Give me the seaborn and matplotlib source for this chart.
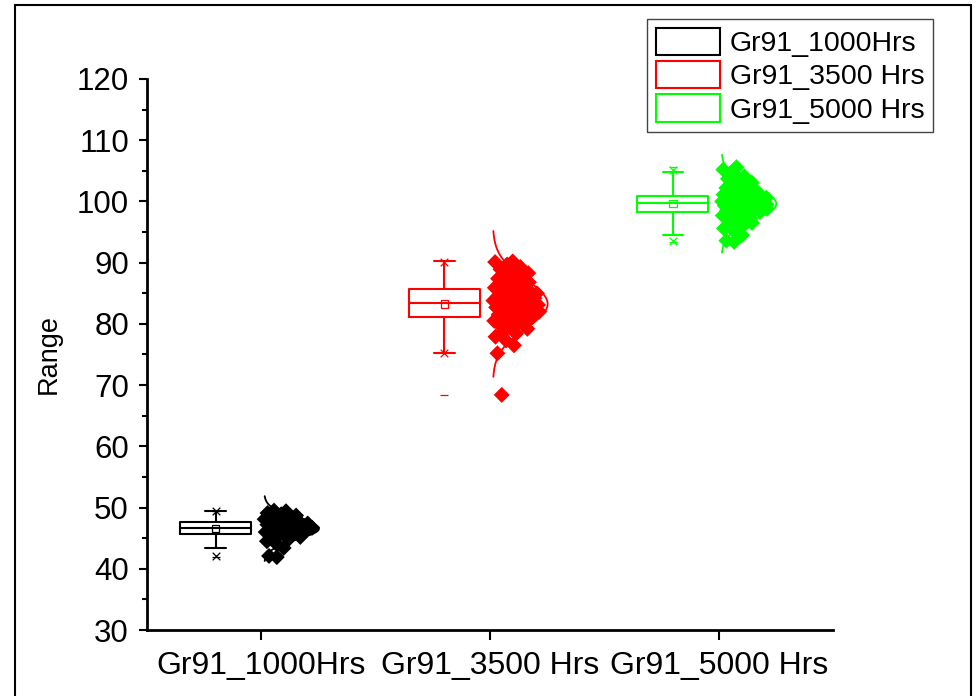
import numpy as np
import pandas as pd
import matplotlib
matplotlib.use("Agg")
import matplotlib.pyplot as plt
from matplotlib.patches import Patch, Rectangle
import seaborn as sns

# ---------------- data ----------------
categories = ["Gr91_1000Hrs", "Gr91_3500 Hrs", "Gr91_5000 Hrs"]
legend_labels = ["Gr91_1000Hrs", "Gr91_3500 Hrs", "Gr91_5000 Hrs"]
colors = ["#000000", "#FF0000", "#00FF00"]

range_1000 = [41.9, 42.1, 43.4, 44.0, 44.5, 44.8, 45.0, 45.2, 45.4, 45.6,
              45.7, 45.9, 46.0, 46.1, 46.2, 46.3, 46.4, 46.5, 46.5, 46.6,
              46.7, 46.8, 46.9, 47.0, 47.1, 47.2, 47.3, 47.4, 47.4, 47.5,
              47.6, 47.8, 47.9, 48.1, 48.3, 48.5, 48.7, 48.9, 49.1, 49.4,
              49.5]
range_3500 = [68.4, 75.2, 76.5, 77.3, 77.9, 78.4, 78.8, 79.2, 79.5, 79.8,
              80.1, 80.3, 80.5, 80.7, 80.9, 81.1, 81.3, 81.5, 81.6, 81.8,
              82.0, 82.1, 82.3, 82.4, 82.6, 82.7, 82.9, 83.0, 83.1, 83.3,
              83.4, 83.5, 83.6, 83.8, 83.9, 84.0, 84.2, 84.3, 84.5, 84.6,
              84.8, 85.0, 85.2, 85.3, 85.5, 85.7, 85.9, 86.2, 86.5, 86.8,
              87.1, 87.4, 87.7, 88.0, 88.3, 88.6, 88.9, 89.3, 89.7, 90.1,
              90.2]
range_5000 = [93.4, 93.6, 94.5, 95.2, 95.6, 95.9, 96.2, 96.5, 96.7, 97.0,
              97.2, 97.5, 97.7, 97.9, 98.1, 98.3, 98.4, 98.5, 98.6, 98.7,
              98.8, 98.9, 99.0, 99.1, 99.2, 99.3, 99.4, 99.5, 99.5, 99.6,
              99.7, 99.8, 99.9, 100.0, 100.0, 100.1, 100.2, 100.3, 100.4, 100.4,
              100.5, 100.6, 100.7, 100.8, 100.8, 100.9, 101.1, 101.3, 101.5, 101.7,
              101.9, 102.2, 102.5, 102.8, 103.1, 103.4, 103.7, 104.1, 104.8, 105.2,
              105.6]
series = [range_1000, range_3500, range_5000]

y_ticks = [30, 40, 50, 60, 70, 80, 90, 100, 110, 120]
y_label = "Range"

# ---------------- layout helpers ----------------
BOX_SHIFT = -0.2
SPREAD = 0.215


def distribution_offsets(values, width):
    v = np.asarray(values, float)
    n = len(v)
    sd = v.std(ddof=1)
    bw = 0.9 * sd * n ** -0.2
    dens = np.exp(-0.5 * ((v[:, None] - v[None, :]) / bw) ** 2).sum(axis=1)
    dens = dens / dens.max()
    shape = 0.12 + 0.88 * np.sqrt(dens)
    rank = np.argsort(np.argsort(v))
    frac = ((rank + 1) * 0.6180339887) % 1.0
    return 0.012 + frac * width * shape


rows = []
for i, (cat, vals) in enumerate(zip(categories, series)):
    offs = distribution_offsets(vals, SPREAD)
    for v, o in zip(vals, offs):
        rows.append({"group": cat, "value": v, "box_x": i + BOX_SHIFT, "pt_x": i + o})
df = pd.DataFrame(rows)

sns.set_style("ticks")
plt.rcParams["font.family"] = ["Liberation Sans", "DejaVu Sans"]
for key in ["text.color", "axes.labelcolor", "xtick.color", "ytick.color", "axes.edgecolor"]:
    plt.rcParams[key] = "black"

fig = plt.figure(figsize=(9.77, 6.96), dpi=100)
ax = fig.add_axes([147 / 977, 1 - 630 / 696, (833 - 147) / 977, (630 - 79) / 696])

sns.boxplot(data=df, x="box_x", y="value", hue="group", hue_order=categories,
            palette=colors, native_scale=True, dodge=False, fill=False,
            width=0.31, whis=1.5, showfliers=False, linewidth=1.5,
            capwidths=0.09, legend=False, ax=ax)

# normal distribution curves
for i, (vals, c) in enumerate(zip(series, colors)):
    v = np.asarray(vals)
    m, sd = v.mean(), v.std(ddof=1)
    yy = np.linspace(m - 3 * sd, m + 3 * sd, 200)
    xx = i + 0.012 + 0.24 * np.exp(-0.5 * ((yy - m) / sd) ** 2)
    ax.plot(xx, yy, color=c, lw=1.3, zorder=2)

sns.scatterplot(data=df, x="pt_x", y="value", hue="group", hue_order=categories,
                palette=colors, marker="D", s=66, linewidth=0, legend=False,
                zorder=3, ax=ax)

# mean squares, 1%/99% crosses, min/max dashes
for i, (vals, c) in enumerate(zip(series, colors)):
    v = np.asarray(vals)
    bx = i + BOX_SHIFT
    ax.scatter([bx], [v.mean()], marker="s", s=28, facecolors="none",
               edgecolors=c, linewidths=0.9, zorder=4)
    p1 = np.percentile(v, 1, method="higher")
    p99 = np.percentile(v, 99, method="lower")
    ax.scatter([bx, bx], [p1, p99], marker="x", s=30, color=c, linewidths=0.9, zorder=4)
    ax.scatter([bx, bx], [v.min(), v.max()], marker="_", s=30, color=c, linewidths=0.9, zorder=4)

# axes styling
ax.set_xlim(-0.5, 2.5)
ax.set_ylim(30, 120)
ax.set_xticks([0, 1, 2])
ax.set_xticklabels(categories)
ax.set_yticks(y_ticks)
ax.set_yticks(np.arange(35, 120, 10), minor=True)
ax.set_xlabel("")
ax.set_ylabel(y_label, fontsize=19.5, labelpad=11, color="black")
for side in ["top", "right"]:
    ax.spines[side].set_visible(False)
for side in ["left", "bottom"]:
    ax.spines[side].set_linewidth(2)
    ax.spines[side].set_color("black")
ax.tick_params(axis="y", which="major", direction="out", length=6, width=1.5,
               labelsize=22.5, pad=7, colors="black")
ax.tick_params(axis="y", which="minor", direction="out", length=3.5, width=1.5,
               colors="black")
ax.tick_params(axis="x", which="major", direction="out", length=7, width=1.5,
               labelsize=23, pad=8, colors="black")
ax.tick_params(axis="x", which="minor", bottom=False)

handles = [Patch(facecolor="white", edgecolor=c, linewidth=1.5) for c in colors]
leg = ax.legend(handles, legend_labels, loc="upper right",
                bbox_to_anchor=(933 / 977, 1 - 19 / 696), bbox_transform=fig.transFigure,
                borderaxespad=0, fontsize=20.5, handlelength=2.25, handleheight=1.1,
                labelspacing=0.14, handletextpad=0.35, borderpad=0.3,
                fancybox=False, framealpha=1)
leg.get_frame().set_edgecolor("#444444")
leg.get_frame().set_linewidth(1.0)
for t in leg.get_texts():
    t.set_color("black")

fig.add_artist(Rectangle((15 / 977, -0.02), (971 - 15) / 977, 1 - 5 / 696 + 0.02,
                         transform=fig.transFigure, fill=False,
                         edgecolor="black", linewidth=1.5))

fig.savefig("out.png", dpi=100)
